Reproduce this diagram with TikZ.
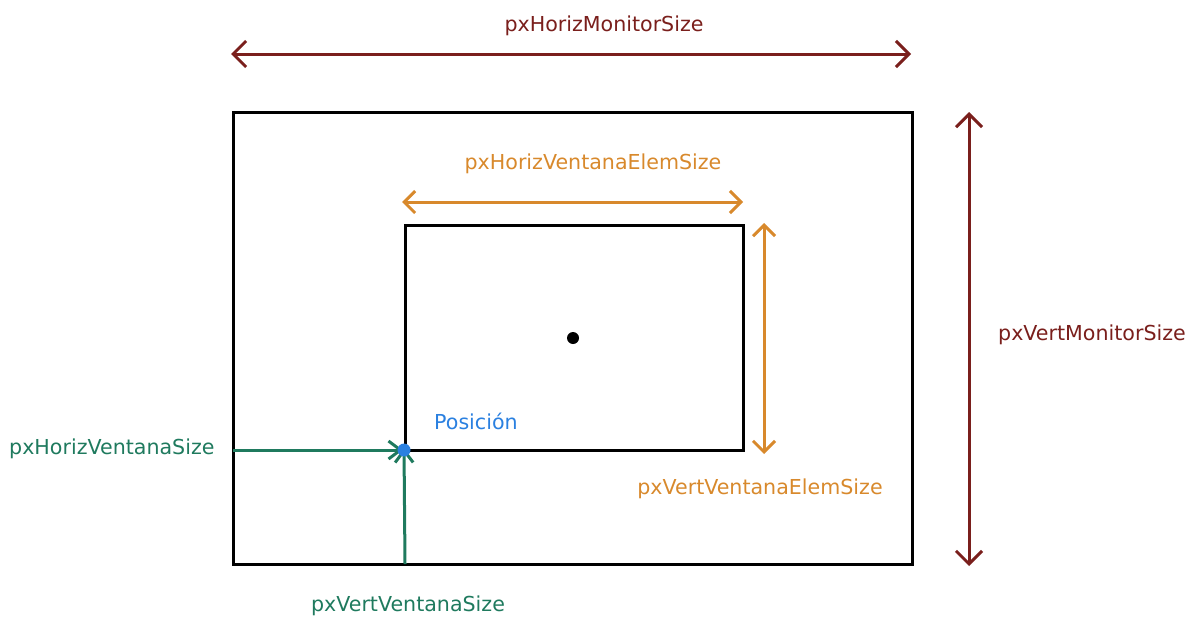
\documentclass[tikz,border=0pt]{standalone}
\usepackage{fontspec}
\setmainfont{DejaVu Sans}
\usetikzlibrary{arrows.meta}
\definecolor{mred}{HTML}{7A1F1C}
\definecolor{morange}{HTML}{D8892C}
\definecolor{mgreen}{HTML}{1F7A5E}
\definecolor{mblue}{HTML}{2A80E0}
\tikzset{
  box/.style={draw=black, line width=3pt},
  dimred/.style={draw=mred, line width=3pt, {Straight Barb[length=13pt,width=26pt,line width=3pt]}-{Straight Barb[length=13pt,width=26pt,line width=3pt]}},
  dimorange/.style={draw=morange, line width=3pt, {Straight Barb[length=11pt,width=22pt,line width=3pt]}-{Straight Barb[length=11pt,width=22pt,line width=3pt]}},
  dimgreen/.style={draw=mgreen, line width=3pt, -{Straight Barb[length=12pt,width=18pt,line width=3pt]}},
  lbl/.style={font=\fontsize{20.6}{24}\selectfont, inner sep=0pt},
}
\begin{document}
\begin{tikzpicture}[x=1pt,y=-1pt]
\useasboundingbox (0,0) rectangle (1190,616);
% monitor and window
\draw[box] (233,112) rectangle (912,564);
\draw[box] (405,225) rectangle (743,450);
\fill[black] (573,338) circle (6);
% monitor dims
\coordinate (hl) at (231,54);
\coordinate (hr) at (911,54);
\draw[dimred] (hl) -- (hr);
\node[lbl, text=mred] (hlab) at (604,26) {pxHorizMonitorSize};
\coordinate (vt) at (969,112);
\coordinate (vb) at (969,566);
\draw[dimred] (vt) -- (vb);
\node[lbl, text=mred, anchor=west] (vlab) at (998,335) {pxVertMonitorSize};
% window element dims
\coordinate (ohl) at (402,202);
\coordinate (ohr) at (743,202);
\draw[dimorange] (ohl) -- (ohr);
\node[lbl, text=morange] (ohlab) at (593,164) {pxHorizVentanaElemSize};
\coordinate (ovt) at (764,223);
\coordinate (ovb) at (764,454);
\draw[dimorange] (ovt) -- (ovb);
\node[lbl, text=morange] (ovlab) at (760,489) {pxVertVentanaElemSize};
% position
\coordinate (pos) at (404,450);
\coordinate (gl) at (233,450);
\coordinate (gb) at (405,564);
\draw[dimgreen] (gl) -- ([xshift=-1pt]pos);
\draw[dimgreen] (gb) -- ([yshift=2pt]pos);
\node[lbl, text=mgreen, anchor=west] (ghlab) at (9,449) {pxHorizVentanaSize};
\node[lbl, text=mgreen] (gvlab) at (408,606) {pxVertVentanaSize};
\fill[mblue] (pos) circle (6.5);
\node[lbl, text=mblue, anchor=west] (poslab) at (434,421) {Posición};
\end{tikzpicture}
\end{document}
